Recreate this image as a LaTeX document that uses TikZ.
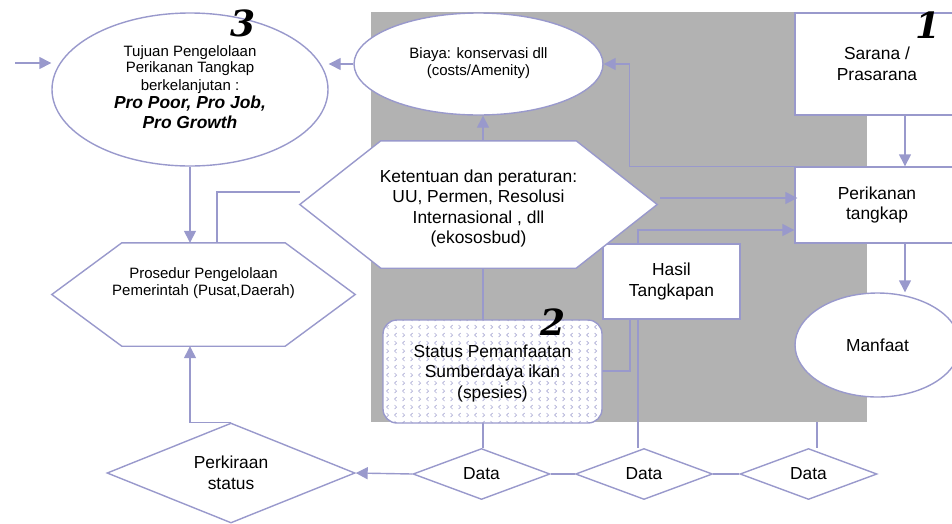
\documentclass[tikz,border=0pt]{standalone}
\usepackage{fontspec}
\setmainfont{Liberation Sans}
\newfontfamily\numfont{DejaVu Serif}
\usetikzlibrary{arrows.meta}
\usetikzlibrary{shapes.geometric}
\usetikzlibrary{patterns}
\definecolor{lilac}{RGB}{153,153,204}
\definecolor{greyback}{RGB}{178,178,178}
\pgfdeclarepatternformonly{chevrons}{\pgfqpoint{-1pt}{-1pt}}{\pgfqpoint{17pt}{17pt}}{\pgfqpoint{16pt}{16pt}}{%
  \pgfsetlinewidth{0.7pt}%
  \pgfpathmoveto{\pgfqpoint{2.5pt}{14pt}}\pgfpathlineto{\pgfqpoint{4.5pt}{12pt}}\pgfpathlineto{\pgfqpoint{2.5pt}{10pt}}%
  \pgfpathmoveto{\pgfqpoint{12.5pt}{14pt}}\pgfpathlineto{\pgfqpoint{10.5pt}{12pt}}\pgfpathlineto{\pgfqpoint{12.5pt}{10pt}}%
  \pgfpathmoveto{\pgfqpoint{4.5pt}{6pt}}\pgfpathlineto{\pgfqpoint{2.5pt}{4pt}}\pgfpathlineto{\pgfqpoint{4.5pt}{2pt}}%
  \pgfpathmoveto{\pgfqpoint{10.5pt}{6pt}}\pgfpathlineto{\pgfqpoint{12.5pt}{4pt}}\pgfpathlineto{\pgfqpoint{10.5pt}{2pt}}%
  \pgfusepath{stroke}}
\tikzstyle{every node}=[font=\fontsize{17.4}{20.5}\selectfont,align=center,inner sep=0pt]
\tikzstyle{small}=[font=\fontsize{15}{17.5}\selectfont]
\tikzstyle{box}=[draw=lilac,line width=1.4pt,fill=white,rectangle]
\tikzstyle{oval}=[draw=lilac,line width=1.4pt,fill=white,ellipse]
\tikzstyle{rhomb}=[draw=lilac,line width=1.4pt,fill=white,diamond,shape aspect=2.7,minimum width=137pt,minimum height=51pt]
\tikzstyle{hexa}=[rectangle]
\tikzstyle{link}=[draw=lilac,line width=1.4pt]
\tikzstyle{arrow}=[link,-{Triangle[length=12pt,width=12pt]}]
\tikzstyle{numeral}=[font=\numfont\bfseries\itshape\fontsize{36}{36}\selectfont]

\begin{document}
\begin{tikzpicture}[x=1pt,y=-1pt]
\useasboundingbox (0,0) rectangle (952,523);
\clip (0,0) rectangle (952,523);
\fill[greyback] (371,12) rectangle (867,422);

% nodes
\node[oval,small,minimum width=276pt,minimum height=153pt] (tuj) at (190,89.5) {};
\node[oval,small,minimum width=249pt,minimum height=102pt] (cost) at (478.5,64) {};
\node[hexa,minimum width=357pt,minimum height=127pt] (rule) at (478.5,204.5) {};
\node[hexa,minimum width=303pt,minimum height=103pt] (proc) at (203.5,294.5) {};
\node[box,minimum width=164pt,minimum height=102pt] (sarana) at (877,64) {};
\node[box,minimum width=164pt,minimum height=76pt] (fish) at (877,205) {};
\node[box,minimum width=137pt,minimum height=75pt] (catch) at (671.5,281.5) {};
\node[oval,minimum width=165pt,minimum height=104pt] (benefit) at (877.5,345) {};
\node[rhomb,minimum width=248pt,minimum height=100pt,shape aspect=2.5] (est) at (231,473) {};
\node[rhomb] (dataA) at (481.5,474) {};
\node[rhomb] (dataB) at (644,474) {};
\node[rhomb] (dataC) at (808.5,474) {};
\coordinate (inp) at (15,63);
\coordinate (gedge) at (817,422);
\coordinate (spine) at (483,0);

% connectors
\draw[arrow] (inp) -- (inp -| tuj.west);
\draw[arrow] (cost.west) -- (cost.west -| tuj.east);
\draw[arrow] (tuj.south) -- (tuj.south |- proc.north);
\draw[arrow] (est.north) -| (tuj.south |- proc.south);
\draw[link] ([yshift=12.5pt]rule.west) -| ([xshift=13.5pt]proc.north);
\draw[arrow] (spine |- rule.north) -- (spine |- cost.south);
\draw[link] (spine |- rule.south) -- (spine |- 0,320);
\draw[link] (spine |- 0,423) -- (spine |- dataA.north);
\draw[arrow] (fish.north west) -- ++(-165,0) |- (cost.east);
\draw[arrow] ([xshift=3pt,yshift=6.5pt]rule.east) -- ([xshift=3pt,yshift=6.5pt]rule.east -| fish.west);
\draw[arrow] ([xshift=-33.5pt]catch.north) |- ([yshift=-25pt]fish.west);
\draw[link] (602,371) -| ([xshift=-41.5pt]catch.south);
\draw[link] ([xshift=-33.5pt]catch.south) -- ([xshift=-33.5pt]catch.south |- dataB.north);
\draw[arrow] ([xshift=28pt]sarana.south) -- ([xshift=28pt]fish.north);
\draw[arrow] ([xshift=28pt]fish.south) -- ([xshift=28pt]fish.south |- benefit.north);
\draw[link] (gedge) -- (gedge |- dataC.north);
\draw[arrow] (dataA.west) -- (est.east);
\draw[link] (dataA.east) -- (dataB.west);
\draw[link] (dataB.east) -- (dataC.west);

% hexagons and status box
\draw[link,fill=white] (rule.west) -- ([xshift=81pt]rule.north west) -- ([xshift=-81pt]rule.north east)
  -- (rule.east) -- ([xshift=-81pt]rule.south east) -- ([xshift=81pt]rule.south west) -- cycle;
\draw[link,fill=white] (proc.west) -- ([xshift=70pt]proc.north west) -- ([xshift=-70pt]proc.north east)
  -- (proc.east) -- ([xshift=-70pt]proc.south east) -- ([xshift=70pt]proc.south west) -- cycle;
\node[draw=lilac,line width=1.4pt,rounded corners=14pt,preaction={fill=white},pattern=chevrons,
  pattern color=lilac!80,minimum width=219pt,minimum height=103pt] (stock) at (492.5,371.5) {};

% texts
\node at ([yshift=2pt]tuj.center) {\fontsize{15}{17.5}\selectfont Tujuan Pengelolaan\\[-5pt]\fontsize{15}{17.5}\selectfont Perikanan Tangkap\\[-2.5pt]
  \fontsize{15}{18}\selectfont berkelanjutan :\\[-2.5pt]\textbf{\textit{Pro Poor, Pro Job,}}\\\textbf{\textit{Pro Growth}}};
\node[small] at ([yshift=1pt]cost.center) {Biaya: konservasi dll\\(costs/Amenity)};
\node at ([yshift=-4pt]rule.center) {Ketentuan dan peraturan:\\UU, Permen, Resolusi\\Internasional , dll\\(ekososbud)};
\node[small] at ([yshift=11.5pt]proc.center) {Prosedur Pengelolaan\\Pemerintah (Pusat,Daerah)};
\node at (sarana.center) {Sarana /\\Prasarana};
\node at (fish.center) {Perikanan\\tangkap};
\node at (catch.center) {Hasil\\Tangkapan};
\node at (benefit.center) {Manfaat};
\node at ([yshift=-1.5pt]stock.center) {Status Pemanfaatan\\Sumberdaya ikan\\(spesies)};
\node at (est.center) {Perkiraan\\status};
\node at (dataA.center) {Data};
\node at (dataB.center) {Data};
\node at (dataC.center) {Data};
\node[numeral] (n3) at (243,23) {3};
\node[numeral] (n1) at (928,25) {1};
\node[numeral] (n2) at (553,322) {2};
\end{tikzpicture}
\end{document}
